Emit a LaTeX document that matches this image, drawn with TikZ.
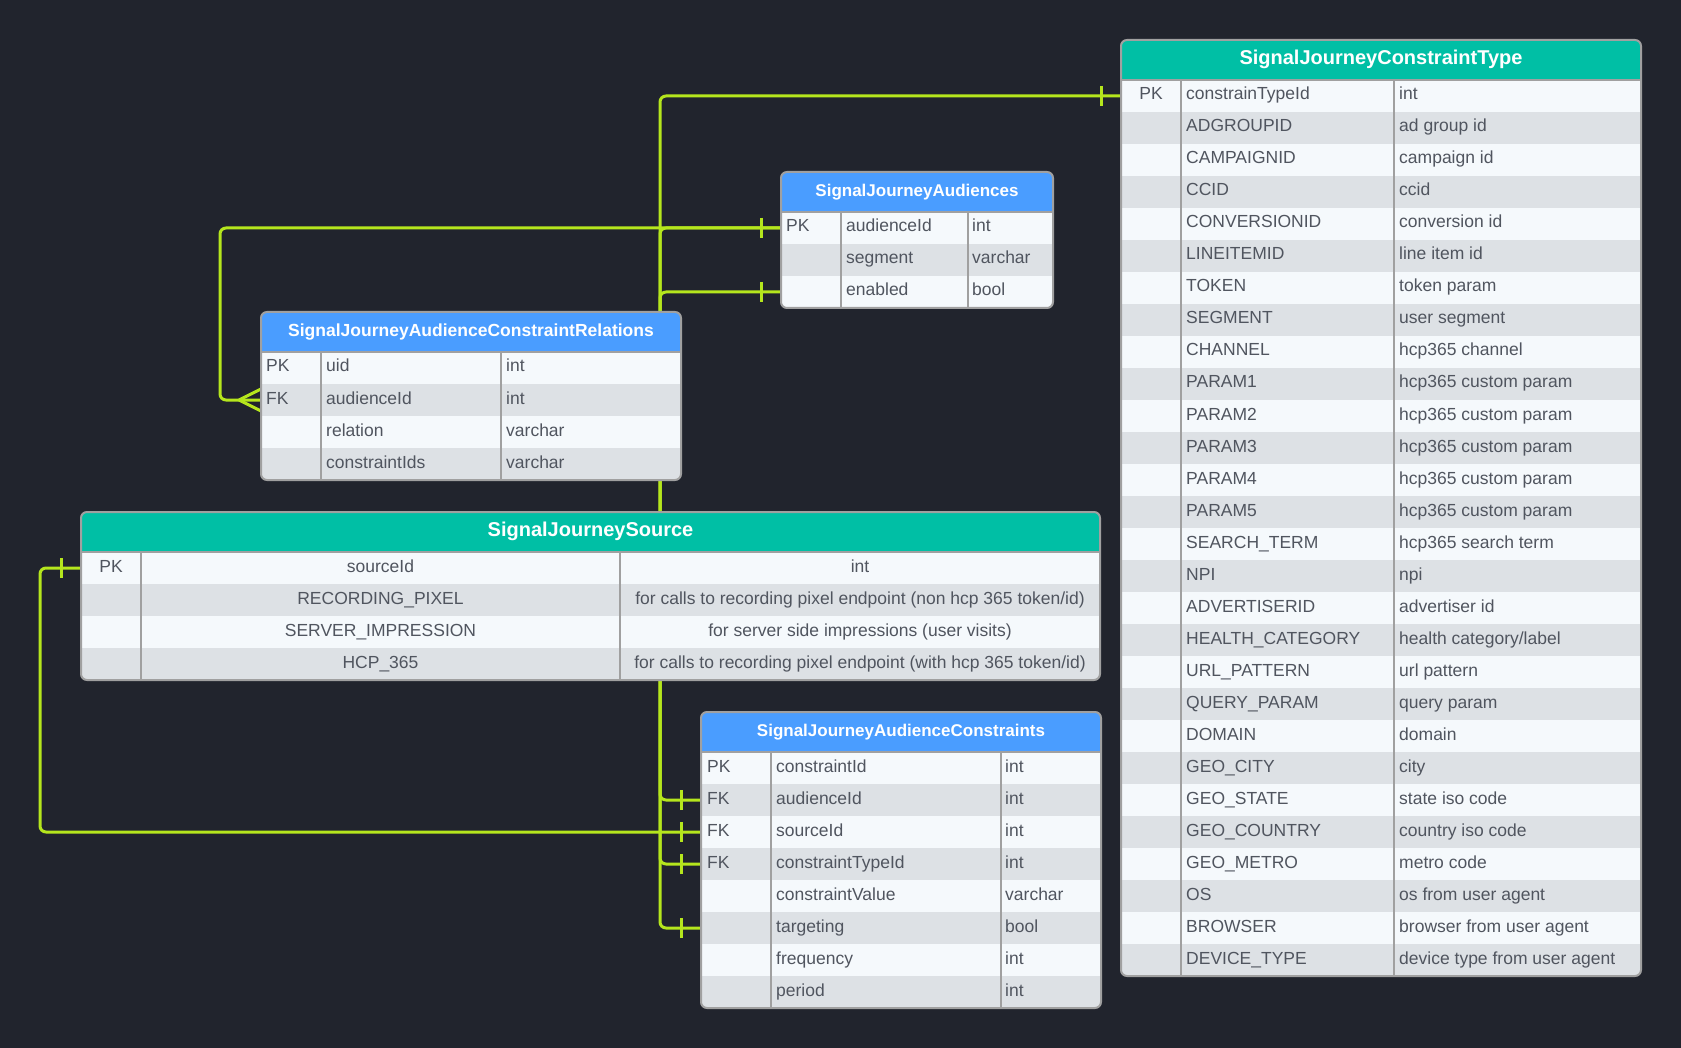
\documentclass[tikz,border=0pt]{standalone}
\usepackage{fontspec}
\setmainfont{Liberation Sans}
\usetikzlibrary{positioning,calc,decorations.markings}
\definecolor{fondo}{HTML}{21242D}
\definecolor{linea}{HTML}{B5E61D}
\definecolor{verde}{HTML}{00BFA5}
\definecolor{azul}{HTML}{4A9DFF}
\definecolor{filaA}{HTML}{F5F9FC}
\definecolor{filaB}{HTML}{DDE1E5}
\definecolor{borde}{HTML}{A0A0A0}
\definecolor{texto}{HTML}{50555F}
\pgfdeclarelayer{capafondo}
\pgfdeclarelayer{capalineas}
\pgfsetlayers{capafondo,capalineas,main}
\tikzset{
    cabecera/.style={
        rectangle,                 % franja del título de la tabla
        fill=#1,                   % color de la cabecera (verde o azul)
        text=white,                % título en blanco
        minimum height=40pt,       % alto fijo de la cabecera
        inner sep=0pt,
        outer sep=0pt,
        anchor=north west          % se coloca por su esquina superior izquierda
    },
    fila/.style={
        rectangle,                 % una fila completa de la tabla
        fill=#1,                   % filas alternadas claro / gris
        minimum height=32pt,       % alto de cada fila
        inner sep=0pt,
        outer sep=0pt,
        anchor=north west
    },
    celda/.style={
        inner sep=0pt,             % texto pegado a su punto
        text=texto,                % gris oscuro
        font=\fontsize{17.5pt}{20pt}\selectfont,
        text height=12.6pt,        % misma altura para todas las celdas
        text depth=4.6pt
    },
    divisor/.style={
        draw=borde,                % líneas internas de la tabla
        line width=2pt
    },
    marco/.style={
        draw=borde,                % borde exterior redondeado
        line width=2pt,
        rounded corners=6pt
    },
    relacion/.style={
        draw=linea,                % conectores verde lima
        line width=3pt,
        rounded corners=6pt
    },
    uno inicio/.style={
        postaction={decorate, decoration={markings,
            mark=at position 20pt with {\draw[draw=linea, line width=3pt] (0,-10pt) -- (0,10pt);}}}
    },
    uno fin/.style={
        postaction={decorate, decoration={markings,
            mark=at position -20pt with {\draw[draw=linea, line width=3pt] (0,-10pt) -- (0,10pt);}}}
    },
    muchos fin/.style={
        postaction={decorate, decoration={markings,
            mark=at position -22pt with {\draw[draw=linea, line width=3pt] (0,0) -- (22pt,11pt) (0,0) -- (22pt,-11pt);}}}
    }
}

\begin{document}
\begin{tikzpicture}[x=1pt, y=-1pt]
    \begin{pgfonlayer}{capafondo}
        \fill[fondo] (0,0) rectangle (1681,1048);
    \end{pgfonlayer}

    % SignalJourneyConstraintType
    \begin{scope}
        \clip[rounded corners=6pt] (1121,40) rectangle (1641,976);
        \node[cabecera=verde, minimum width=520pt, font=\bfseries\fontsize{20pt}{24pt}\selectfont] (ctype) at (1121,39) {SignalJourneyConstraintType};
        \foreach \k/\f/\t [count=\i] in {PK/constrainTypeId/int, /ADGROUPID/ad group id, /CAMPAIGNID/campaign id, /CCID/ccid,
            /CONVERSIONID/conversion id, /LINEITEMID/line item id, /TOKEN/token param, /SEGMENT/user segment,
            /CHANNEL/hcp365 channel, /PARAM1/hcp365 custom param, /PARAM2/hcp365 custom param, /PARAM3/hcp365 custom param,
            /PARAM4/hcp365 custom param, /PARAM5/hcp365 custom param, /SEARCH\_TERM/hcp365 search term, /NPI/npi,
            /ADVERTISERID/advertiser id, /HEALTH\_CATEGORY/{health category/label}, /URL\_PATTERN/url pattern,
            /QUERY\_PARAM/query param, /DOMAIN/domain, /GEO\_CITY/city, /GEO\_STATE/state iso code,
            /GEO\_COUNTRY/country iso code, /GEO\_METRO/metro code, /OS/os from user agent,
            /BROWSER/browser from user agent, /DEVICE\_TYPE/device type from user agent}{
            \ifodd\i \def\rc{filaA}\else \def\rc{filaB}\fi
            \node[fila=\rc, minimum width=520pt] (ctype-\i) at (1121,{48+32*\i}) {};
            \node[celda] at ($(ctype-\i.west)+(30,0)$) {\k};
            \node[celda, anchor=west] at ($(ctype-\i.west)+(65,0)$) {\f};
            \node[celda, anchor=west] at ($(ctype-\i.west)+(278,0)$) {\t};
        }
    \end{scope}
    \draw[divisor] (1121,80) -- (1641,80) (1181,80) -- (1181,976) (1394,80) -- (1394,976);
    \draw[marco] (1121,40) rectangle (1641,976);

    % SignalJourneyAudiences
    \begin{scope}
        \clip[rounded corners=6pt] (781,172) rectangle (1053,308);
        \node[cabecera=azul, minimum width=272pt, font=\bfseries\fontsize{17pt}{20pt}\selectfont] (aud) at (781,172) {SignalJourneyAudiences};
        \foreach \k/\f/\t [count=\i] in {PK/audienceId/int, /segment/varchar, /enabled/bool}{
            \ifodd\i \def\rc{filaA}\else \def\rc{filaB}\fi
            \node[fila=\rc, minimum width=272pt] (aud-\i) at (781,{180+32*\i}) {};
            \node[celda, anchor=west] at ($(aud-\i.west)+(5,0)$) {\k};
            \node[celda, anchor=west] at ($(aud-\i.west)+(65,0)$) {\f};
            \node[celda, anchor=west] at ($(aud-\i.west)+(191,0)$) {\t};
        }
    \end{scope}
    \draw[divisor] (781,212) -- (1053,212) (841,212) -- (841,308) (968,212) -- (968,308);
    \draw[marco] (781,172) rectangle (1053,308);

    % SignalJourneyAudienceConstraintRelations
    \begin{scope}
        \clip[rounded corners=6pt] (261,312) rectangle (681,480);
        \node[cabecera=azul, minimum width=420pt, font=\bfseries\fontsize{17.5pt}{20pt}\selectfont] (rel) at (261,312) {SignalJourneyAudienceConstraintRelations};
        \foreach \k/\f/\t [count=\i] in {PK/uid/int, FK/audienceId/int, /relation/varchar, /constraintIds/varchar}{
            \ifodd\i \def\rc{filaA}\else \def\rc{filaB}\fi
            \node[fila=\rc, minimum width=420pt] (rel-\i) at (261,{320+32*\i}) {};
            \node[celda, anchor=west] at ($(rel-\i.west)+(5,0)$) {\k};
            \node[celda, anchor=west] at ($(rel-\i.west)+(65,0)$) {\f};
            \node[celda, anchor=west] at ($(rel-\i.west)+(245,0)$) {\t};
        }
    \end{scope}
    \draw[divisor] (261,352) -- (681,352) (321,352) -- (321,480) (501,352) -- (501,480);
    \draw[marco] (261,312) rectangle (681,480);

    % SignalJourneySource
    \begin{scope}
        \clip[rounded corners=6pt] (81,512) rectangle (1100,680);
        \node[cabecera=verde, minimum width=1019pt, font=\bfseries\fontsize{20pt}{24pt}\selectfont] (src) at (81,511) {SignalJourneySource};
        \foreach \k/\f/\t [count=\i] in {PK/sourceId/int,
            /RECORDING\_PIXEL/{for calls to recording pixel endpoint (non hcp 365 token/id)},
            /SERVER\_IMPRESSION/for server side impressions (user visits),
            /HCP\_365/{for calls to recording pixel endpoint (with hcp 365 token/id)}}{
            \ifodd\i \def\rc{filaA}\else \def\rc{filaB}\fi
            \node[fila=\rc, minimum width=1019pt] (src-\i) at (81,{520+32*\i}) {};
            \node[celda] at ($(src-\i.west)+(30,0)$) {\k};
            \node[celda] at ($(src-\i.west)+(299.5,0)$) {\f};
            \node[celda] at ($(src-\i.west)+(779,0)$) {\t};
        }
    \end{scope}
    \draw[divisor] (81,552) -- (1100,552) (141,552) -- (141,680) (620,552) -- (620,680);
    \draw[marco] (81,512) rectangle (1100,680);

    % SignalJourneyAudienceConstraints
    \begin{scope}
        \clip[rounded corners=6pt] (701,712) rectangle (1101,1008);
        \node[cabecera=azul, minimum width=400pt, font=\bfseries\fontsize{17pt}{20pt}\selectfont] (ac) at (701,712) {SignalJourneyAudienceConstraints};
        \foreach \k/\f/\t [count=\i] in {PK/constraintId/int, FK/audienceId/int, FK/sourceId/int, FK/constraintTypeId/int,
            /constraintValue/varchar, /targeting/bool, /frequency/int, /period/int}{
            \ifodd\i \def\rc{filaA}\else \def\rc{filaB}\fi
            \node[fila=\rc, minimum width=400pt] (ac-\i) at (701,{720+32*\i}) {};
            \node[celda, anchor=west] at ($(ac-\i.west)+(6,0)$) {\k};
            \node[celda, anchor=west] at ($(ac-\i.west)+(75,0)$) {\f};
            \node[celda, anchor=west] at ($(ac-\i.west)+(304,0)$) {\t};
        }
    \end{scope}
    \draw[divisor] (701,752) -- (1101,752) (771,752) -- (771,1008) (1001,752) -- (1001,1008);
    \draw[marco] (701,712) rectangle (1101,1008);

    % conectores (por detrás de las tablas)
    \begin{pgfonlayer}{capalineas}
        \coordinate (tronco) at (660,0);
        \coordinate (izq) at (220,0);
        \coordinate (lazo) at (40,0);
        \draw[relacion, uno inicio, uno fin] (ctype-1.west) -- (ctype-1.west -| tronco) -- (ac-4.west -| tronco) -- (ac-4.west);
        \draw[relacion, uno inicio, muchos fin] (aud-1.west) -- (aud-1.west -| izq) -- (rel-2.west -| izq) -- (rel-2.west);
        \draw[relacion, uno inicio, uno fin] (aud-1.west) -- (aud-1.west -| tronco) -- (ac-2.west -| tronco) -- (ac-2.west);
        \draw[relacion, uno inicio, uno fin] (aud-3.west) -- (aud-3.west -| tronco) -- (ac-6.west -| tronco) -- (ac-6.west);
        \draw[relacion, uno inicio, uno fin] (src-1.west) -- (src-1.west -| lazo) -- (ac-3.west -| lazo) -- (ac-3.west);
    \end{pgfonlayer}
\end{tikzpicture}
\end{document}
